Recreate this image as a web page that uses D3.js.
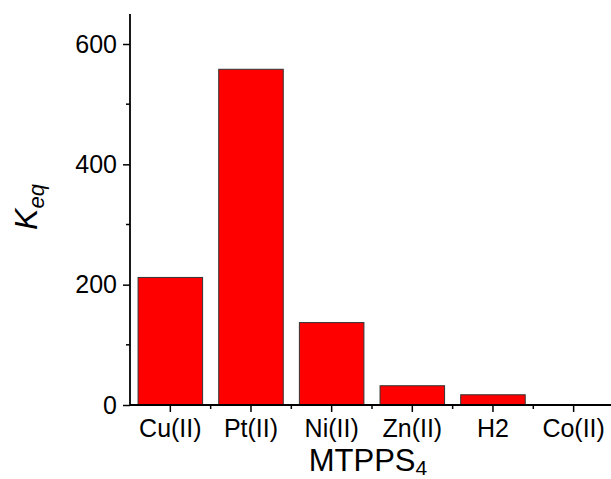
<!DOCTYPE html>
<html>
<head>
<meta charset="utf-8">
<script src="https://cdn.jsdelivr.net/npm/d3@7"></script>
<style>
  body { margin: 0; background: #fff; }
  svg { font-family: "Liberation Sans", Arial, sans-serif; }
</style>
</head>
<body>
<div id="chart"></div>
<script>
// data
const categories = ["Cu(II)", "Pt(II)", "Ni(II)", "Zn(II)", "H2", "Co(II)"];
const keqValues = [212, 558, 137, 32, 17, 0];
const yTicks = [0, 200, 400, 600];
const yMinorTicks = [100, 300, 500];

const width = 611, height = 479;
const margin = { top: 14, left: 130, bottom: 74 };
const plotBottom = height - margin.bottom; // 405

const svg = d3.select("#chart").append("svg")
  .attr("width", width)
  .attr("height", height);

// scales
const x = d3.scaleBand()
  .domain(categories)
  .range([margin.left, margin.left + 6 * 80.66])
  .paddingInner(0.2)
  .paddingOuter(0.1);

const y = d3.scaleLinear()
  .domain([0, 600])
  .range([plotBottom, 44]);

// bars
svg.selectAll("rect.bar")
  .data(keqValues)
  .enter()
  .append("rect")
  .attr("class", "bar")
  .attr("x", (d, i) => x(categories[i]))
  .attr("y", d => y(d))
  .attr("width", x.bandwidth())
  .attr("height", d => plotBottom - y(d))
  .attr("fill", "#ff0000")
  .attr("stroke", "#333")
  .attr("stroke-width", 1);

// y axis
const yAxis = svg.append("g")
  .attr("transform", "translate(" + margin.left + ",0)")
  .call(d3.axisLeft(y).tickValues(yTicks).tickSize(7).tickPadding(6).tickSizeOuter(0));
yAxis.select(".domain").remove();
yAxis.selectAll("text").attr("font-size", 25).attr("fill", "#000")
  .attr("font-family", "Liberation Sans, Arial, sans-serif");
yAxis.selectAll("line").attr("stroke-width", 1.5);

svg.append("line")
  .attr("x1", margin.left).attr("x2", margin.left)
  .attr("y1", margin.top).attr("y2", plotBottom)
  .attr("stroke", "#000").attr("stroke-width", 1.8);

svg.append("g").selectAll("line")
  .data(yMinorTicks)
  .enter().append("line")
  .attr("x1", margin.left - 4).attr("x2", margin.left)
  .attr("y1", d => y(d)).attr("y2", d => y(d))
  .attr("stroke", "#000").attr("stroke-width", 1.5);

// x axis
const xAxis = svg.append("g")
  .attr("transform", "translate(0," + plotBottom + ")")
  .call(d3.axisBottom(x).tickSize(7).tickPadding(7).tickSizeOuter(0));
xAxis.select(".domain").remove();
xAxis.selectAll("text").attr("font-size", 25).attr("fill", "#000")
  .attr("font-family", "Liberation Sans, Arial, sans-serif");
xAxis.selectAll("line").attr("stroke-width", 1.5);

svg.append("line")
  .attr("x1", margin.left).attr("x2", width)
  .attr("y1", plotBottom).attr("y2", plotBottom)
  .attr("stroke", "#000").attr("stroke-width", 1.8);

// minor ticks between categories
const step = x.step();
svg.append("g").selectAll("line")
  .data(categories.slice(1))
  .enter().append("line")
  .attr("x1", d => x(d) + x.bandwidth() / 2 - step / 2)
  .attr("x2", d => x(d) + x.bandwidth() / 2 - step / 2)
  .attr("y1", plotBottom).attr("y2", plotBottom + 4)
  .attr("stroke", "#000").attr("stroke-width", 1.5);

// axis titles
const xt = svg.append("text")
  .attr("x", 368).attr("y", 471)
  .attr("text-anchor", "middle")
  .attr("font-size", 31);
xt.append("tspan").text("MTPPS");
xt.append("tspan").text("4").attr("font-size", 21).attr("dy", 4);

const yt = svg.append("text")
  .attr("transform", "translate(37,207) rotate(-90)")
  .attr("text-anchor", "middle")
  .attr("font-size", 32);
yt.append("tspan").text("K").attr("font-style", "italic");
yt.append("tspan").text("eq").attr("font-style", "italic").attr("font-size", 22).attr("dy", 7);
</script>
</body>
</html>
